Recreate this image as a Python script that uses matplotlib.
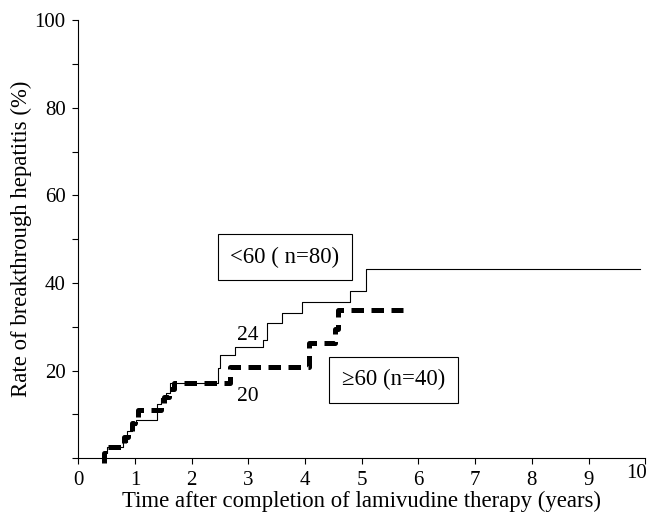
import numpy as np
import matplotlib
matplotlib.use("Agg")
import matplotlib.pyplot as plt
from matplotlib.ticker import MultipleLocator

plt.rcParams['font.family'] = ['Liberation Serif', 'DejaVu Serif']

# <60 years group (n=80), cumulative rate (%) - step points
young_t = [0.43, 0.43, 0.50, 0.78, 0.86, 0.95, 1.02, 1.38, 1.45, 1.55, 1.62,
           2.47, 2.50, 2.76, 3.26, 3.32, 3.59, 3.94, 4.79, 5.07, 9.9]
young_y = [0, 1.2, 2.5, 3.7, 6.2, 7.5, 8.7, 12.5, 13.7, 15.0, 17.1,
           20.5, 23.6, 25.3, 27.0, 30.8, 33.1, 35.6, 38.2, 43.3, 43.3]

# >=60 years group (n=40)
old_t = [0.45, 0.45, 0.50, 0.80, 0.88, 0.95, 1.00, 1.05, 1.45, 1.52, 1.60, 1.68,
         2.68, 4.07, 4.52, 4.58, 5.72]
old_y = [-1.0, 1.2, 2.5, 4.8, 6.2, 8.0, 9.5, 11.0, 12.0, 14.0, 15.8, 17.1,
         20.9, 26.2, 29.5, 33.8, 33.8]

x_ticks = list(range(11))
x_labels = [str(v) for v in x_ticks]

fig = plt.figure(figsize=(6.54, 5.21), dpi=100)
ax = fig.add_axes([0.1197, 0.1203, 0.8670, 0.8413])

ax.plot(young_t, young_y, drawstyle='steps-post', color='black', lw=0.8)
dash_line, = ax.plot(old_t, old_y, drawstyle='steps-post', color='black', lw=3.6,
                     dash_capstyle='butt', clip_on=False)
dash_line.set_dashes((2.5, 1.5))

ax.set_xlim(0, 10)
ax.set_ylim(0, 100)
# the last label ("10") is drawn separately, nudged up/left like the original
ax.set_xticks(x_ticks, x_labels[:-1] + [''])
ax.text(9.84, -3.4, x_labels[-1], fontsize=15, ha='center', va='center', clip_on=False)
ax.yaxis.set_minor_locator(MultipleLocator(10))
ax.set_yticks([20, 40, 60, 80, 100])
ax.spines['top'].set_visible(False)
ax.spines['right'].set_visible(False)
ax.tick_params(direction='out', length=4, width=0.8, labelsize=15, pad=5)
ax.tick_params(axis='y', which='minor', direction='out', length=4, width=0.8)

ax.set_xlabel('Time after completion of lamivudine therapy (years)', fontsize=16.4, labelpad=1)
ax.set_ylabel('Rate of breakthrough hepatitis (%)', fontsize=16.4, labelpad=2)

box = dict(boxstyle='square,pad=0.55', facecolor='white', edgecolor='black', lw=0.8)
ax.text(3.64, 45.9, '<60 ( n=80)', fontsize=16.4, ha='center', va='center', bbox=box)
ax.text(5.56, 17.9, '≥60 (n=40)', fontsize=16.4, ha='center', va='center', bbox=box)
ax.text(2.99, 28.1, '24', fontsize=15.5, ha='center', va='center')
ax.text(2.99, 14.0, '20', fontsize=15.5, ha='center', va='center')

fig.savefig('out.png', dpi=100)
